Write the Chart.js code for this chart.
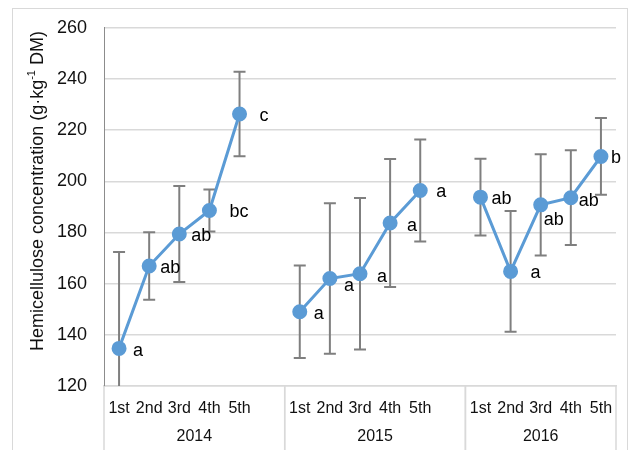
<!DOCTYPE html>
<html>
<head>
<meta charset="utf-8">
<script src="https://cdn.jsdelivr.net/npm/chart.js@4.4.1/dist/chart.umd.min.js"></script>
<style>
  body { margin: 0; background: #fff; }
  #wrap { position: relative; width: 630px; height: 450px; }
  #frame { position: absolute; left: 12px; top: 8px; width: 616px; height: 450px; border: 1px solid #d9d9d9; box-sizing: border-box; }
  canvas { position: absolute; left: 0; top: 0; }
</style>
</head>
<body>
<div id="wrap">
  <div id="frame"></div>
  <canvas id="chart" width="630" height="450"></canvas>
</div>
<script>
// data
const years = ['2014', '2015', '2016'];
const cuts = ['1st', '2nd', '3rd', '4th', '5th'];

const mean2014 = [134.7, 166.9, 179.4, 188.6, 226.3];
const mean2015 = [149.0, 162.0, 163.9, 183.7, 196.4];
const mean2016 = [193.8, 164.8, 190.8, 193.6, 209.7];

const err2014 = [37.7, 13.2, 18.8, 8.2, 16.5];
const err2015 = [18.1, 29.4, 29.6, 25.0, 19.9];
const err2016 = [15.0, 23.6, 19.8, 18.5, 15.0];

const letters2014 = ['a', 'ab', 'ab', 'bc', 'c'];
const letters2015 = ['a', 'a', 'a', 'a', 'a'];
const letters2016 = ['ab', 'a', 'ab', 'ab', 'b'];

const yTicks = [120, 140, 160, 180, 200, 220, 240, 260];

// Excel-style gap category between the year groups
const labels = [...cuts, '', ...cuts, '', ...cuts];
const means = [...mean2014, null, ...mean2015, null, ...mean2016];
const errs = [...err2014, null, ...err2015, null, ...err2016];
const letters = [...letters2014, null, ...letters2015, null, ...letters2016];
// where each year group starts/ends in category index
const groups = [[0, 5], [6, 11], [12, 16]];

// hand placement of the letter labels (dx, dy from the point)
const labelNudge = [
  [14, 3], [11, 2], [12, 2], [20, 2], [20, 2], null,
  [14, 2], [14, 7], [17, 3], [17, 3], [16, 2], null,
  [11, 2], [20, 2], [3, 15], [8, 3], [10, 2]
];

const FONT = '"Liberation Sans", Arial, sans-serif';
const BLUE = '#5b9bd5';

const decor = {
  id: 'decor',
  beforeDatasetsDraw(chart) {
    const { ctx, chartArea: a } = chart;
    const x = chart.scales.x, y = chart.scales.y;
    ctx.save();
    ctx.beginPath();
    ctx.rect(a.left, a.top, a.right - a.left, a.bottom - a.top);
    ctx.clip();
    ctx.strokeStyle = '#7f7f7f';
    ctx.lineWidth = 2;
    means.forEach((m, i) => {
      if (m == null) return;
      const px = x.getPixelForValue(i);
      const top = y.getPixelForValue(m + errs[i]);
      const bot = y.getPixelForValue(m - errs[i]);
      ctx.beginPath();
      ctx.moveTo(px, top); ctx.lineTo(px, bot);
      ctx.moveTo(px - 6, top); ctx.lineTo(px + 6, top);
      ctx.moveTo(px - 6, bot); ctx.lineTo(px + 6, bot);
      ctx.stroke();
    });
    ctx.restore();
  },
  afterDraw(chart) {
    const { ctx, chartArea: a } = chart;
    const x = chart.scales.x, y = chart.scales.y;
    ctx.save();

    // letters
    ctx.fillStyle = '#000';
    ctx.font = '18px ' + FONT;
    ctx.textAlign = 'left';
    ctx.textBaseline = 'middle';
    letters.forEach((t, i) => {
      if (!t) return;
      const [dx, dy] = labelNudge[i];
      ctx.fillText(t, x.getPixelForValue(i) + dx, y.getPixelForValue(means[i]) + dy);
    });

    // group separators + year labels
    const step = (x.getPixelForValue(1) - x.getPixelForValue(0));
    ctx.strokeStyle = '#d9d9d9';
    ctx.lineWidth = 1.5;
    ctx.font = '16px ' + FONT;
    ctx.textAlign = 'center';
    ctx.fillStyle = '#111';
    groups.forEach(([s, e], gi) => {
      const l = x.getPixelForValue(s) - step / 2;
      const r = x.getPixelForValue(e) + step / 2;
      ctx.beginPath();
      ctx.moveTo(l, a.bottom); ctx.lineTo(l, 450);
      ctx.moveTo(r, a.bottom); ctx.lineTo(r, 450);
      ctx.stroke();
      ctx.fillText(years[gi], (l + r) / 2, 437);
    });

    // y axis title with superscript
    ctx.translate(36, 191);
    ctx.rotate(-Math.PI / 2);
    ctx.textAlign = 'left';
    ctx.textBaseline = 'alphabetic';
    const p1 = 'Hemicellulose concentration (g·kg';
    const sup = '-1';
    const p2 = ' DM)';
    ctx.font = '18px ' + FONT;
    const w1 = ctx.measureText(p1).width, w3 = ctx.measureText(p2).width;
    ctx.font = '11px ' + FONT;
    const w2 = ctx.measureText(sup).width;
    let sx = -(w1 + w2 + w3) / 2;
    ctx.font = '18px ' + FONT;
    ctx.fillText(p1, sx, 7);
    ctx.font = '11px ' + FONT;
    ctx.fillText(sup, sx + w1, -1);
    ctx.font = '18px ' + FONT;
    ctx.fillText(p2, sx + w1 + w2, 7);
    ctx.restore();
  }
};

new Chart(document.getElementById('chart'), {
  type: 'line',
  data: {
    labels: labels,
    datasets: [{
      data: means,
      borderColor: BLUE,
      backgroundColor: BLUE,
      borderWidth: 3,
      pointRadius: 6,
      pointHoverRadius: 6,
      pointBackgroundColor: BLUE,
      pointBorderColor: BLUE,
      spanGaps: false,
      tension: 0
    }]
  },
  options: {
    responsive: false,
    animation: false,
    layout: { padding: { left: 0, top: 27, right: 14, bottom: 0 } },
    plugins: { legend: { display: false }, tooltip: { enabled: false } },
    scales: {
      x: {
        offset: true,
        grid: { display: false },
        border: { display: true, color: '#d9d9d9', width: 1.5 },
        ticks: { autoSkip: false, maxRotation: 0, padding: 5, color: '#111', font: { family: FONT, size: 16 } },
        afterFit: s => { s.height = 64; }
      },
      y: {
        min: yTicks[0],
        max: yTicks[yTicks.length - 1],
        afterBuildTicks: s => { s.ticks = yTicks.map(v => ({ value: v })); },
        grid: { color: '#d9d9d9', lineWidth: 1.5, drawTicks: false },
        border: { display: true, color: '#8c8c8c', width: 1 },
        ticks: { padding: 17, color: '#111', font: { family: FONT, size: 18 } },
        afterFit: s => { s.width = 104; }
      }
    }
  },
  plugins: [decor]
});
</script>
</body>
</html>
